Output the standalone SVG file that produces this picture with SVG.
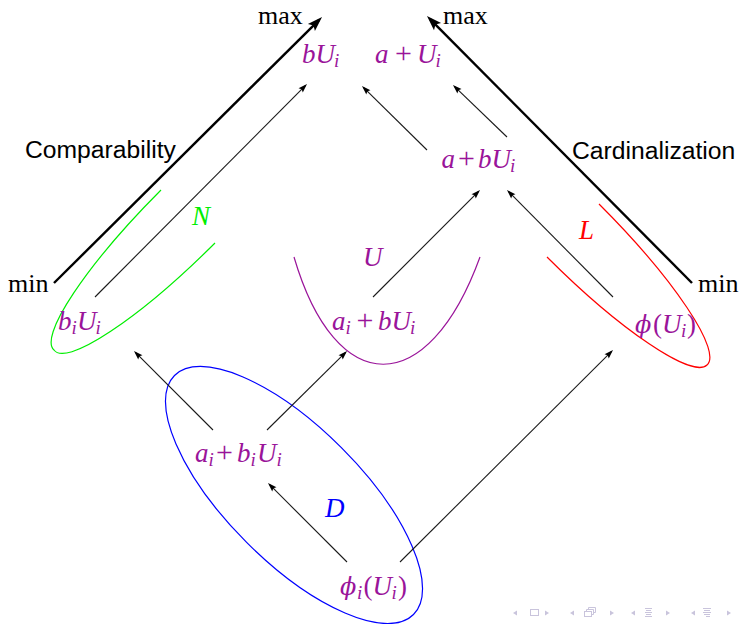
<svg xmlns="http://www.w3.org/2000/svg" width="741" height="624" viewBox="0 0 741 624">
<style>
.bg{fill:#ffffff}
.m{font-family:"Liberation Serif","DejaVu Serif","Times New Roman",serif;font-size:27px;fill:#9a149a}
.it{font-style:italic}
.sub{font-size:19px}
.pl{font-size:30px}
.phi{font-family:"DejaVu Serif","Liberation Serif",serif;font-size:24px;font-style:italic}
.lbl{font-family:"Liberation Serif","Times New Roman",serif;font-size:26px;fill:#000}
.sans{font-family:"Liberation Sans",Arial,sans-serif;font-size:24.7px;fill:#000}
.axis{stroke:#000;stroke-width:2.4;fill:none}
.conn{stroke:#1a1a1a;stroke-width:1.1;fill:none}
.nav{fill:#c9c4dc}
.navs{fill:none;stroke:#c9c4dc;stroke-width:1}
</style>
<defs>
<marker id="big" markerUnits="userSpaceOnUse" markerWidth="16" markerHeight="11" refX="11" refY="5" orient="auto" overflow="visible">
<path d="M0,0 L15,5 L0,10 L3,5 z" fill="#000"/>
</marker>
<marker id="sm" markerUnits="userSpaceOnUse" markerWidth="10" markerHeight="7" refX="7" refY="3" orient="auto" overflow="visible">
<path d="M0,0 L9,3 L0,6 L1.5,3 z" fill="#000"/>
</marker>
</defs>
<rect class="bg" x="0" y="0" width="741" height="624"/>

<g id="axes">
<line class="axis" x1="54" y1="283" x2="319.2" y2="19.8" marker-end="url(#big)"/>
<line class="axis" x1="692" y1="283" x2="429.8" y2="18.8" marker-end="url(#big)"/>
<text class="lbl" x="258" y="24">max</text>
<text class="lbl" x="443" y="24">max</text>
<text class="lbl" x="8" y="292">min</text>
<text class="lbl" x="698" y="292">min</text>
<text class="sans" x="25" y="158">Comparability</text>
<text class="sans" x="572" y="159">Cardinalization</text>
</g>

<g id="regions">
<path id="regionN" d="M161,190 A190,37 -45 0 0 54,350 A190,37 -45 0 0 215,243" fill="none" stroke="#00ee00" stroke-width="1.2"/>
<path id="regionL" d="M599,204 A190,37 45 0 1 707,365 A190,37 45 0 1 547,257" fill="none" stroke="#ff0000" stroke-width="1.2"/>
<path id="regionU" d="M294,257 C336,400 428,400 480,257" fill="none" stroke="#9a149a" stroke-width="1.2"/>
<ellipse id="regionD" cx="294" cy="495" rx="169" ry="67" transform="rotate(45 294 495)" fill="none" stroke="#0000ff" stroke-width="1.2"/>
<text class="m it" x="192" y="225" style="fill:#00ee00">N</text>
<text class="m it" x="363" y="266">U</text>
<text class="m it" x="579" y="239" style="fill:#ff0000">L</text>
<text class="m it" x="325" y="517" style="fill:#0000ff">D</text>
</g>

<g id="connectors">
<line class="conn" x1="95" y1="297" x2="305.6" y2="85.4" marker-end="url(#sm)"/>
<line class="conn" x1="427" y1="150" x2="363.4" y2="87.4" marker-end="url(#sm)"/>
<line class="conn" x1="507" y1="137" x2="454.4" y2="86.4" marker-end="url(#sm)"/>
<line class="conn" x1="373" y1="297" x2="478.6" y2="191.4" marker-end="url(#sm)"/>
<line class="conn" x1="613" y1="297" x2="508.4" y2="191.4" marker-end="url(#sm)"/>
<line class="conn" x1="213" y1="430" x2="135.4" y2="352.4" marker-end="url(#sm)"/>
<line class="conn" x1="267" y1="430" x2="345.6" y2="352.4" marker-end="url(#sm)"/>
<line class="conn" x1="347" y1="562" x2="269.4" y2="484.4" marker-end="url(#sm)"/>
<line class="conn" x1="400" y1="562" x2="611.6" y2="351.4" marker-end="url(#sm)"/>
</g>

<g id="node-bU">
<text class="m"><tspan class="it" x="302" y="63">b</tspan><tspan class="it" x="315.5" y="63">U</tspan><tspan class="it sub" x="334" y="67">i</tspan></text>
</g>
<g id="node-aU">
<text class="m"><tspan class="it" x="375" y="63">a</tspan><tspan class="pl" x="395" y="63">+</tspan><tspan class="it" x="417" y="63">U</tspan><tspan class="it sub" x="435.5" y="67">i</tspan></text>
</g>
<g id="node-abU">
<text class="m"><tspan class="it" x="441.5" y="168">a</tspan><tspan class="pl" x="458" y="168">+</tspan><tspan class="it" x="478" y="168">b</tspan><tspan class="it" x="491.5" y="168">U</tspan><tspan class="it sub" x="510" y="172">i</tspan></text>
</g>
<g id="node-biUi">
<text class="m"><tspan class="it" x="58" y="330">b</tspan><tspan class="it sub" x="71.5" y="334">i</tspan><tspan class="it" x="77" y="330">U</tspan><tspan class="it sub" x="95.5" y="334">i</tspan></text>
</g>
<g id="node-aibU">
<text class="m"><tspan class="it" x="332" y="329.5">a</tspan><tspan class="it sub" x="345.5" y="333.5">i</tspan><tspan class="pl" x="356.5" y="329.5">+</tspan><tspan class="it" x="378" y="329.5">b</tspan><tspan class="it" x="391.5" y="329.5">U</tspan><tspan class="it sub" x="410" y="333.5">i</tspan></text>
</g>
<g id="node-phiU">
<text class="m"><tspan class="phi" x="635" y="333">ϕ</tspan><tspan x="653" y="333">(</tspan><tspan class="it" x="662" y="333">U</tspan><tspan class="it sub" x="681" y="337">i</tspan><tspan x="687" y="333">)</tspan></text>
</g>
<g id="node-phiiU">
<text class="m"><tspan class="phi" x="340" y="595">ϕ</tspan><tspan class="it sub" x="357" y="599">i</tspan><tspan x="363.5" y="595">(</tspan><tspan class="it" x="372.5" y="595">U</tspan><tspan class="it sub" x="391.5" y="599">i</tspan><tspan x="398" y="595">)</tspan></text>
</g>
<g id="node-aibiU">
<text class="m"><tspan class="it" x="195" y="462">a</tspan><tspan class="it sub" x="208.5" y="466">i</tspan><tspan class="pl" x="216" y="462">+</tspan><tspan class="it" x="237" y="462">b</tspan><tspan class="it sub" x="250.5" y="466">i</tspan><tspan class="it" x="257" y="462">U</tspan><tspan class="it sub" x="276.5" y="466">i</tspan></text>
</g>

<g id="navigation">
<polygon class="nav" points="513,613 517,610.5 517,615.5"/>
<rect class="navs" x="530.5" y="609.5" width="8" height="6"/>
<polygon class="nav" points="545,610.5 549,613 545,615.5"/>
<polygon class="nav" points="570,613 574,610.5 574,615.5"/>
<rect class="navs" x="584.5" y="611.5" width="7" height="5"/>
<path class="navs" d="M586.5,611.5 V609.5 H593.5 V614.5 H591.5 M588.5,609.5 V607.5 H595.5 V612.5 H593.5"/>
<polygon class="nav" points="610,610.5 614,613 610,615.5"/>
<polygon class="nav" points="631,613 635,610.5 635,615.5"/>
<path class="navs" d="M645,608.5 H652 M646,610.5 H651 M645,612.5 H652 M646,614.5 H651 M645,616.5 H652"/>
<polygon class="nav" points="666,610.5 670,613 666,615.5"/>
<polygon class="nav" points="691,613 695,610.5 695,615.5"/>
<path class="navs" d="M703,608.5 H711 M704,610.5 H710 M703,612.5 H711 M704,614.5 H710 M706,616.5 H710"/>
<polygon class="nav" points="727,610.5 731,613 727,615.5"/>
</g>
</svg>
